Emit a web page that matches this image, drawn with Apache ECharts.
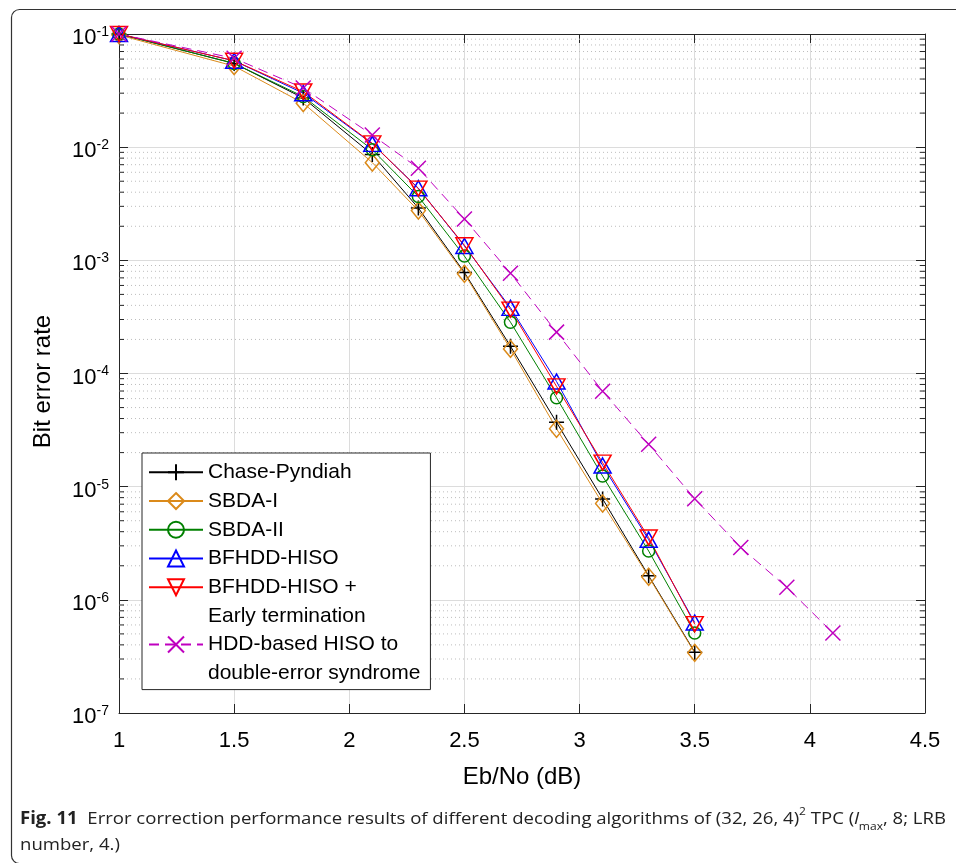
<!DOCTYPE html>
<html>
<head>
<meta charset="utf-8">
<script src="https://cdn.jsdelivr.net/npm/echarts@6/dist/echarts.min.js"></script>
<style>
  html, body { margin: 0; padding: 0; background: #fff; }
  #chart { width: 956px; height: 863px; }
</style>
</head>
<body>
<div id="chart"></div>
<script>
// ---- data ----
const ebno = [1, 1.5, 1.8, 2.1, 2.3, 2.5, 2.7, 2.9, 3.1, 3.3, 3.5];
const ebnoHdd = [1, 1.5, 1.8, 2.1, 2.3, 2.5, 2.7, 2.9, 3.1, 3.3, 3.5, 3.7, 3.9, 4.1];
const chasePyndiah = [0.1, 0.055, 0.0272, 0.0086, 0.0029, 0.00078, 0.000174, 0.000037, 7.8e-6, 1.63e-6, 3.45e-7];
const sbda1 = [0.098, 0.052, 0.0245, 0.0073, 0.00275, 0.00076, 0.000165, 0.0000325, 7.1e-6, 1.6e-6, 3.4e-7];
const sbda2 = [0.1, 0.055, 0.028, 0.0095, 0.00366, 0.00109, 0.000284, 0.000061, 1.24e-5, 2.7e-6, 5.1e-7];
const bfhdd = [0.1, 0.058, 0.030, 0.0107, 0.00434, 0.00134, 0.00038, 0.000085, 1.54e-5, 3.4e-6, 6.3e-7];
const bfhddEt = [0.1, 0.058, 0.031, 0.0108, 0.0043, 0.00136, 0.000367, 0.000077, 1.63e-5, 3.55e-6, 6.1e-7];
const hddHiso = [0.1, 0.061, 0.0333, 0.0128, 0.00652, 0.00232, 0.00077, 0.000232, 0.0000698, 0.0000237, 7.83e-6, 2.9e-6, 1.29e-6, 5.1e-7];
const legendNames = ['Chase-Pyndiah', 'SBDA-I', 'SBDA-II', 'BFHDD-HISO', 'BFHDD-HISO +', 'Early termination', 'HDD-based HISO to', 'double-error syndrome'];
const xTicks = [1, 1.5, 2, 2.5, 3, 3.5, 4, 4.5];
const yDecades = [-7, -6, -5, -4, -3, -2, -1];

// minor log grid values (2..9 x each decade)
const minorVals = [];
for (let e = yDecades[0]; e < yDecades[yDecades.length - 1]; e++) {
  for (let k = 2; k <= 9; k++) minorVals.push([xTicks[0], k * Math.pow(10, e)]);
}

const AX = '#262626';
const FONT = "'Liberation Sans', Arial, Helvetica, sans-serif";

const SYM = {
  plus: 'path://M0,-1 L0,1 M-1,0 L1,0',
  diamond: 'path://M0,-1 L1,0 L0,1 L-1,0 Z',
  up: 'path://M0,0 L1,1.6 L-1,1.6 Z',
  down: 'path://M-1,0 L1,0 L0,1.6 Z',
  cross: 'path://M-1,-1 L1,1 M-1,1 L1,-1'
};

function mk(name, xs, ys, color, symbol, size, dashed) {
  return {
    name: name, type: 'line',
    data: xs.map((x, i) => [x, ys[i]]),
    symbol: symbol, symbolSize: size,
    showAllSymbol: true,
    lineStyle: { color: color, width: 1, type: dashed ? [10, 6] : 'solid' },
    itemStyle: { color: 'none', borderColor: color, borderWidth: 1.5 },
    emphasis: { disabled: true },
    z: 3
  };
}
function dummy(name) {
  return {
    name: name, type: 'line', data: [], symbol: 'none',
    lineStyle: { opacity: 0 }, itemStyle: { opacity: 0 }
  };
}

const chart = echarts.init(document.getElementById('chart'), null, { renderer: 'canvas' });

// caption width fitting
const capText1a = 'Fig. 11';
const capText1b = '  Error correction performance results of different decoding algorithms of (32, 26, 4)';
const capText1c = ' TPC (';
const capText1d = ', 8; LRB';
const cfont = "'Open Sans', 'Noto Sans', sans-serif";
const mctx = document.createElement('canvas').getContext('2d');
mctx.font = 'bold 17px ' + cfont; let cw = mctx.measureText(capText1a).width;
mctx.font = '17px ' + cfont; cw += mctx.measureText(capText1b + capText1c + capText1d).width;
mctx.font = '11px ' + cfont; cw += mctx.measureText('2max').width;
mctx.font = 'italic 17px ' + cfont; cw += mctx.measureText('l').width;
const capScale = 926 / cw;

const option = {
  animation: false,
  textStyle: { fontFamily: FONT },
  grid: { left: 119, top: 34, width: 806, height: 679, show: false },
  xAxis: [{
    type: 'value', min: xTicks[0], max: xTicks[xTicks.length - 1], interval: 0.5,
    position: 'bottom',
    axisLine: { show: true, onZero: false, lineStyle: { color: AX, width: 1 } },
    axisTick: { show: true, inside: true, length: 9, lineStyle: { color: AX } },
    axisLabel: { color: '#000', fontSize: 22, margin: 17, fontFamily: FONT,
      formatter: v => String(v) },
    splitLine: { show: true, lineStyle: { color: '#dcdcdc', width: 1 } },
    name: 'Eb/No (dB)', nameLocation: 'middle', nameGap: 52,
    nameTextStyle: { color: '#000', fontSize: 24, fontFamily: FONT }
  }, {
    type: 'value', min: xTicks[0], max: xTicks[xTicks.length - 1], interval: 0.5,
    position: 'top',
    axisLine: { show: true, onZero: false, lineStyle: { color: AX, width: 1 } },
    axisTick: { show: true, inside: true, length: 9, lineStyle: { color: AX } },
    axisLabel: { show: false }, splitLine: { show: false }
  }],
  yAxis: [{
    type: 'log', logBase: 10, min: 1e-7, max: 1e-1, interval: 1, splitNumber: 6,
    position: 'left',
    axisLine: { show: true, onZero: false, lineStyle: { color: AX, width: 1 } },
    axisTick: { show: true, inside: true, length: 9, lineStyle: { color: AX } },
    axisLabel: {
      margin: 10, padding: [8, 0, 0, 0],
      formatter: v => '{b|10}{s|' + Math.round(Math.log10(v)) + '}',
      rich: {
        b: { fontSize: 22, color: '#000', fontFamily: FONT, lineHeight: 26 },
        s: { fontSize: 14, color: '#000', fontFamily: FONT, lineHeight: 14, verticalAlign: 'top' }
      }
    },
    splitLine: { show: true, lineStyle: { color: '#dcdcdc', width: 1 } },
    name: 'Bit error rate', nameLocation: 'middle', nameGap: 64,
    nameTextStyle: { color: '#000', fontSize: 24, fontFamily: FONT, padding: [0, 16, 0, 0] }
  }, {
    type: 'log', logBase: 10, min: 1e-7, max: 1e-1, interval: 1, splitNumber: 6,
    position: 'right',
    axisLine: { show: true, onZero: false, lineStyle: { color: AX, width: 1 } },
    axisTick: { show: true, inside: true, length: 9, lineStyle: { color: AX } },
    axisLabel: { show: false }, splitLine: { show: false }
  }],
  legend: {
    orient: 'vertical', left: 142, top: 453,
    data: legendNames.map((n, i) => (i === 5 || i === 7)
      ? { name: n, itemStyle: { opacity: 0 }, lineStyle: { opacity: 0 } } : n),
    selectedMode: false,
    backgroundColor: '#fff', borderColor: AX, borderWidth: 1, borderRadius: 0,
    padding: [5, 10, 2, 6], itemGap: 0, itemWidth: 54, itemHeight: 20,
    textStyle: { color: '#000', fontSize: 21, lineHeight: 28.7, fontFamily: FONT },
    z: 10
  },
  series: [
    {
      type: 'custom', name: 'minorGrid', silent: true, z: 1,
      coordinateSystem: 'cartesian2d', xAxisIndex: 0, yAxisIndex: 0,
      data: minorVals, encode: { x: 0, y: 1 },
      renderItem: function (params, api) {
        const v = api.value(1);
        const a = api.coord([xTicks[0], v]);
        const b = api.coord([xTicks[xTicks.length - 1], v]);
        return {
          type: 'group', children: [
            { type: 'line', shape: { x1: a[0], y1: a[1], x2: b[0], y2: b[1] },
              style: { stroke: '#bdbdbd', lineWidth: 1, lineDash: [1, 3] } },
            { type: 'line', shape: { x1: a[0], y1: a[1], x2: a[0] + 5, y2: a[1] },
              style: { stroke: AX, lineWidth: 1 } },
            { type: 'line', shape: { x1: b[0] - 5, y1: b[1], x2: b[0], y2: b[1] },
              style: { stroke: AX, lineWidth: 1 } }
          ]
        };
      }
    },
    mk(legendNames[0], ebno, chasePyndiah, '#000000', SYM.plus, [15, 15]),
    mk(legendNames[1], ebno, sbda1, '#DB8A1A', SYM.diamond, [14, 17]),
    mk(legendNames[2], ebno, sbda2, '#008000', 'circle', 12),
    mk(legendNames[3], ebno, bfhdd, '#0000FF', SYM.up, [17, 15]),
    mk(legendNames[4], ebno, bfhddEt, '#FF0000', SYM.down, [17, 15]),
    dummy(legendNames[5]),
    mk(legendNames[6], ebnoHdd, hddHiso, '#BF00BF', SYM.cross, [15, 15], true),
    dummy(legendNames[7])
  ],
  graphic: [
    {
      type: 'rect', left: 9, top: 7, z: -10, silent: true,
      shape: { width: 1000, height: 854, r: 8 },
      style: { fill: 'none', stroke: '#333', lineWidth: 1.2 }
    },
    {
      type: 'text', left: 20, top: 806, silent: true, scaleX: capScale, originX: 0,
      style: {
        text: '{b|' + capText1a + '}{n|' + capText1b + '}{sup|2}{n|' + capText1c + '}{it|l}{sub|max}{n|' + capText1d + '}\n{n|number, 4.)}',
        fontFamily: cfont, fontSize: 17, fill: '#222',
        rich: {
          b: { fontWeight: 'bold', fontSize: 17, fontFamily: cfont, lineHeight: 26, fill: '#222' },
          n: { fontSize: 17, fontFamily: cfont, lineHeight: 26, fill: '#222' },
          it: { fontSize: 17, fontStyle: 'italic', fontFamily: cfont, lineHeight: 26, fill: '#222' },
          sup: { fontSize: 11, fontFamily: cfont, lineHeight: 11, verticalAlign: 'top', fill: '#222' },
          sub: { fontSize: 11, fontFamily: cfont, lineHeight: 11, verticalAlign: 'bottom', fill: '#222' }
        }
      }
    }
  ]
};
chart.setOption(option);
</script>
</body>
</html>
